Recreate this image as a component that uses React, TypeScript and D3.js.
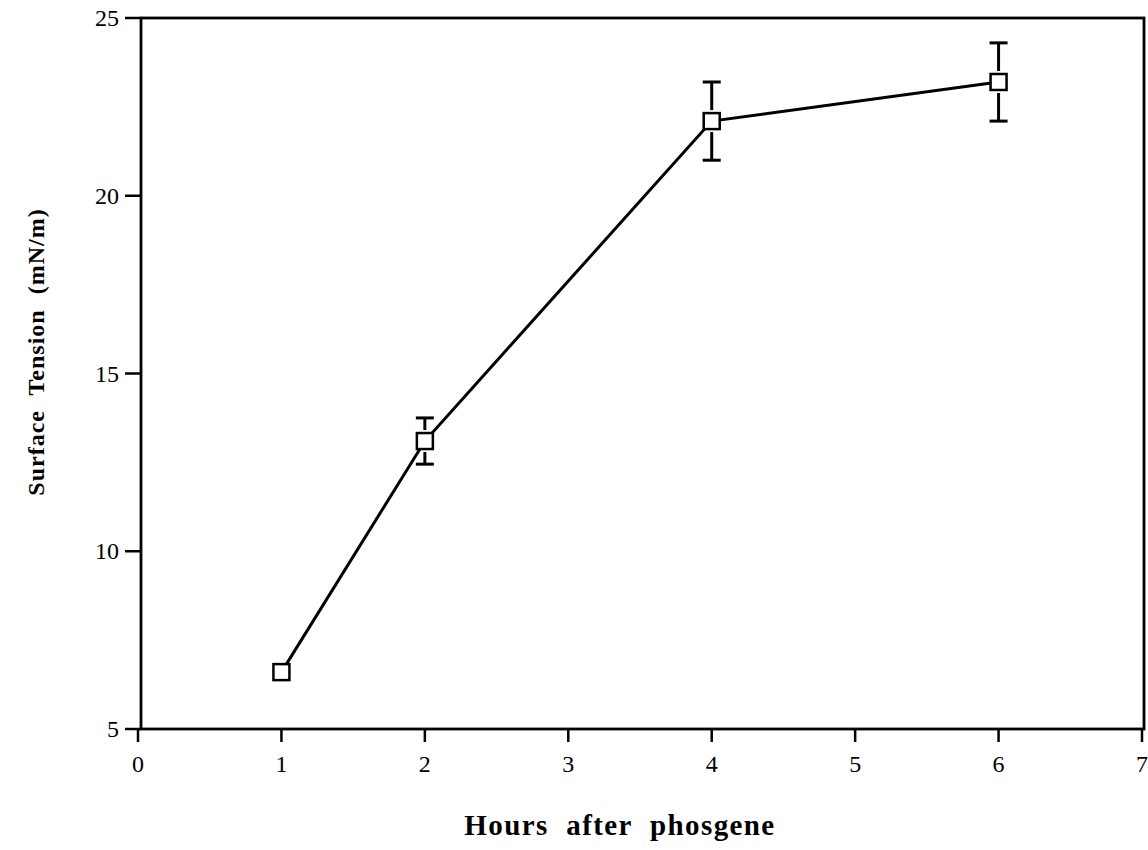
import React from "react";
import * as d3 from "d3";

const hours = [1, 2, 4, 6];
const tension = [6.6, 13.1, 22.1, 23.2];
const errors = [0, 0.65, 1.1, 1.1];
const xTicks = [0, 1, 2, 3, 4, 5, 6, 7];
const yTicks = [5, 10, 15, 20, 25];

const W = 1148;
const H = 850;

export default function App() {
  const x = d3.scaleLinear().domain([0, 7]).range([138, 1142]);
  const y = d3.scaleLinear().domain([5, 25]).range([729, 18]);
  const pts = hours.map((h, i) => ({ h, v: tension[i], e: errors[i] }));
  const line = d3
    .line<{ h: number; v: number }>()
    .x((d) => x(d.h))
    .y((d) => y(d.v));
  const half = 8;
  const font = "'Liberation Serif', 'Times New Roman', serif";

  return (
    <svg
      width={W}
      height={H}
      style={{ position: "absolute", left: 0, top: 0, background: "#fff" }}
    >
      <rect x={0} y={0} width={W} height={H} fill="#fff" />
      {/* frame */}
      <rect
        x={x(0) + 3}
        y={y(25)}
        width={x(7) - x(0) - 1}
        height={y(5) - y(25)}
        fill="none"
        stroke="#000"
        strokeWidth={2.8}
      />
      {/* x ticks */}
      {xTicks.map((t) => (
        <g key={"xt" + t}>
          <line
            x1={x(t)}
            x2={x(t)}
            y1={y(5)}
            y2={y(5) + 13}
            stroke="#000"
            strokeWidth={2.5}
          />
          <text
            x={x(t)}
            y={y(5) + 43}
            textAnchor="middle"
            fontFamily={font}
            fontSize={24}
            fill="#000"
          >
            {t}
          </text>
        </g>
      ))}
      {/* y ticks */}
      {yTicks.map((t) => (
        <g key={"yt" + t}>
          <line
            x1={x(0) - 13}
            x2={x(0) + 3}
            y1={y(t)}
            y2={y(t)}
            stroke="#000"
            strokeWidth={2.5}
          />
          <text
            x={x(0) - 19}
            y={y(t) + 8}
            textAnchor="end"
            fontFamily={font}
            fontSize={24}
            fill="#000"
          >
            {t}
          </text>
        </g>
      ))}
      {/* data line */}
      <path d={line(pts) || ""} fill="none" stroke="#000" strokeWidth={3} />
      {/* error bars */}
      {pts
        .filter((p) => p.e > 0)
        .map((p, i) => {
          const cx = x(p.h);
          const top = y(p.v + p.e);
          const bot = y(p.v - p.e);
          const cy = y(p.v);
          return (
            <g key={"eb" + i} stroke="#000" strokeWidth={3}>
              <line x1={cx} x2={cx} y1={top} y2={cy - half - 3} />
              <line x1={cx} x2={cx} y1={cy + half + 3} y2={bot} />
              <line x1={cx - 9} x2={cx + 9} y1={top} y2={top} />
              <line x1={cx - 9} x2={cx + 9} y1={bot} y2={bot} />
            </g>
          );
        })}
      {/* markers */}
      {pts.map((p, i) => (
        <rect
          key={"m" + i}
          x={x(p.h) - half}
          y={y(p.v) - half}
          width={half * 2}
          height={half * 2}
          fill="#fff"
          stroke="#000"
          strokeWidth={2.5}
        />
      ))}
      {/* axis titles */}
      <text
        x={620}
        y={835}
        textAnchor="middle"
        fontFamily={font}
        fontSize={29}
        fontWeight="bold"
        wordSpacing={9}
        letterSpacing={1.4}
        fill="#000"
      >
        Hours after phosgene
      </text>
      <text
        transform={`translate(44, 352) rotate(-90)`}
        textAnchor="middle"
        fontFamily={font}
        fontSize={24}
        fontWeight="bold"
        wordSpacing={8}
        letterSpacing={1}
        fill="#000"
      >
        Surface Tension (mN/m)
      </text>
    </svg>
  );
}
